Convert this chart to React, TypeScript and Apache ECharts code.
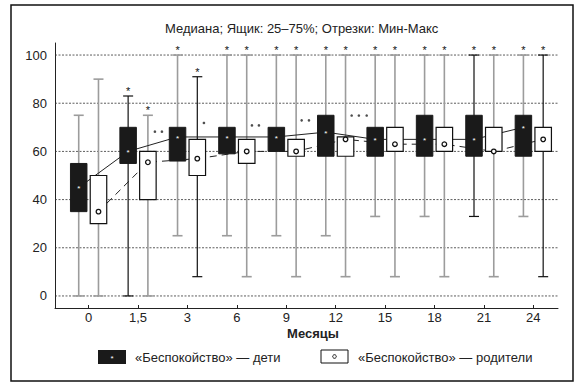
import React, { useEffect, useRef } from 'react';
import * as echarts from 'echarts';

const FONT = '"Liberation Sans", Arial, Helvetica, sans-serif';

const months = ['0', '1,5', '3', '6', '9', '12', '15', '18', '21', '24'];
const yTicks = [0, 20, 40, 60, 80, 100];

// «Беспокойство» — дети
const childMin = [0, 0, 25, 25, 25, 25, 33, 33, 33, 33];
const childQ1 = [35, 55, 56, 59, 60, 58, 58, 58, 58, 58];
const childMedian = [45, 60, 66, 66, 66, 68, 65, 65, 65, 70];
const childQ3 = [55, 70, 70, 70, 70, 75, 70, 75, 75, 75];
const childMax = [75, 83, 100, 100, 100, 100, 100, 100, 100, 100];
const childStar = [false, true, true, true, true, true, true, true, true, true];

// «Беспокойство» — родители
const parentMin = [0, 0, 8, 8, 8, 8, 8, 8, 8, 8];
const parentQ1 = [30, 40, 50, 55, 58, 58, 60, 60, 60, 60];
const parentMedian = [35, 55.5, 57, 60, 60, 65, 63, 63, 60, 65];
const parentQ3 = [50, 60, 65, 65, 65, 66, 70, 70, 70, 70];
const parentMax = [90, 75, 91, 100, 100, 100, 100, 100, 100, 100];
const parentStar = [false, true, true, true, true, true, true, true, true, true];

// significance dots between groups: [month index position, value]
const sigDots = [
  [1.342, 68.2], [1.484, 68.2],
  [2.334, 71.8],
  [3.306, 70.8], [3.447, 70.8],
  [4.312, 72.9], [4.46, 72.9],
  [5.324, 74.9], [5.47, 74.9], [5.628, 74.9],
];

// whisker styling (dark = black line, otherwise grey)
const childWhiskerDark = [false, true, false, false, false, false, false, false, true, false];
const parentWhiskerDark = [false, false, true, false, false, false, false, false, false, true];

const OFFSET = 0.2;
const BOX_W = 0.334;

function whiskerRender(offset: number, dark: boolean[]) {
  return (params: any, api: any) => {
    const i = api.value(0);
    const x = api.coord([i + offset, 0])[0];
    const yLo = api.coord([i, api.value(1)])[1];
    const yHi = api.coord([i, api.value(2)])[1];
    const isDark = dark[i];
    const stroke = isDark ? '#111' : '#9c9c9c';
    const lw = isDark ? 1.2 : 1.6;
    const st = { stroke, lineWidth: lw };
    return {
      type: 'group',
      children: [
        { type: 'line', shape: { x1: x, y1: yHi, x2: x, y2: yLo }, style: st },
        { type: 'line', shape: { x1: x - 5, y1: yLo, x2: x + 5, y2: yLo }, style: st },
        { type: 'line', shape: { x1: x - 5, y1: yHi, x2: x + 5, y2: yHi }, style: st },
      ],
    };
  };
}

function starRender(offset: number) {
  return (params: any, api: any) => {
    const i = api.value(0);
    const x = api.coord([i + offset, 0])[0];
    const yHi = api.coord([i, api.value(1)])[1];
    return {
      type: 'text',
      x,
      y: yHi - 5,
      style: { text: '*', fontSize: 11, fill: '#111', align: 'center', verticalAlign: 'middle', fontFamily: FONT },
    };
  };
}

function boxRender(offset: number, filled: boolean) {
  return (params: any, api: any) => {
    const i = api.value(0);
    const x = api.coord([i + offset, 0])[0];
    const y1 = api.coord([i, api.value(1)])[1];
    const ym = api.coord([i, api.value(2)])[1];
    const y3 = api.coord([i, api.value(3)])[1];
    const w = api.size([BOX_W, 0])[0];
    const children: any[] = [
      {
        type: 'rect',
        shape: { x: x - w / 2, y: y3, width: w, height: y1 - y3 },
        style: filled ? { fill: '#1a1a1a', stroke: '#1a1a1a', lineWidth: 1 } : { fill: '#fff', stroke: '#111', lineWidth: 1.2 },
      },
      filled
        ? { type: 'text', x, y: ym + 1.2, style: { text: '*', fontSize: 8, fill: '#fff', align: 'center', verticalAlign: 'middle', fontFamily: FONT } }
        : { type: 'circle', shape: { cx: x, cy: ym, r: 2.3 }, style: { fill: '#fff', stroke: '#111', lineWidth: 1.3 } },
    ];
    return { type: 'group', children };
  };
}

function gridRender(params: any, api: any) {
  const cs = params.coordSys;
  const y = api.coord([0, api.value(0)])[1];
  return {
    type: 'line',
    shape: { x1: cs.x, y1: y, x2: cs.x + cs.width, y2: y },
    style: { stroke: '#333', lineWidth: 0.8, lineDash: [2, 1.5] },
  };
}

export default function App() {
  const ref = useRef<HTMLDivElement>(null);
  useEffect(() => {
    const chart = echarts.init(ref.current!, null, { renderer: 'svg' });
    const idx = months.map((_, i) => i);
    const textStyle = { fontSize: 13, color: '#222', fontFamily: FONT };
    const starData = (max: number[], flags: boolean[]) =>
      max.map((v, i) => [i, v]).filter((_, i) => flags[i]);
    const option: any = {
      animation: false,
      backgroundColor: '#fff',
      title: {
        text: 'Медиана; Ящик: 25–75%; Отрезки: Мин-Макс',
        left: 165,
        top: 22,
        padding: 0,
        textStyle: { fontSize: 13, fontWeight: 'normal', color: '#222', fontFamily: FONT },
      },
      grid: { left: 55, right: 22, top: 43, bottom: 80 },
      xAxis: {
        type: 'value',
        min: -0.68,
        max: 9.5,
        axisLine: { show: true, onZero: false, lineStyle: { color: '#222', width: 1 } },
        axisTick: { show: true, inside: true, length: 3, customValues: idx, lineStyle: { color: '#222' } },
        axisLabel: { customValues: idx, formatter: (v: number) => months[Math.round(v)] ?? '', margin: 3, ...textStyle },
        splitLine: { show: false },
      },
      yAxis: {
        type: 'value',
        min: -5,
        max: 105,
        axisLine: { show: true, onZero: false, lineStyle: { color: '#222', width: 1 } },
        axisTick: { show: false },
        axisLabel: { customValues: yTicks, margin: 8, ...textStyle },
        splitLine: { show: false },
      },
      series: [
        { type: 'custom', z: 1, silent: true, renderItem: gridRender, data: yTicks.map((v) => [v]), encode: { y: 0 } },
        {
          type: 'custom', z: 2, silent: true,
          renderItem: whiskerRender(-OFFSET, childWhiskerDark),
          data: childMin.map((v, i) => [i, v, childMax[i]]),
        },
        {
          type: 'custom', z: 2, silent: true,
          renderItem: whiskerRender(OFFSET, parentWhiskerDark),
          data: parentMin.map((v, i) => [i, v, parentMax[i]]),
        },
        {
          type: 'line', z: 3, silent: true, symbol: 'none',
          lineStyle: { color: '#222', width: 1 },
          data: childMedian.map((v, i) => [i - OFFSET, v]),
        },
        {
          type: 'line', z: 3, silent: true, symbol: 'none',
          lineStyle: { color: '#222', width: 1, type: [7, 5] },
          data: parentMedian.map((v, i) => [i + OFFSET, v]),
        },
        {
          type: 'custom', z: 4, silent: true,
          renderItem: boxRender(-OFFSET, true),
          data: childQ1.map((v, i) => [i, v, childMedian[i], childQ3[i]]),
        },
        {
          type: 'custom', z: 4, silent: true,
          renderItem: boxRender(OFFSET, false),
          data: parentQ1.map((v, i) => [i, v, parentMedian[i], parentQ3[i]]),
        },
        {
          type: 'custom', z: 5, silent: true, color: '#111',
          renderItem: starRender(-OFFSET),
          data: starData(childMax, childStar),
        },
        {
          type: 'custom', z: 5, silent: true, color: '#111',
          renderItem: starRender(OFFSET),
          data: starData(parentMax, parentStar),
        },
        {
          type: 'scatter', z: 5, silent: true, symbol: 'circle', symbolSize: 2.6,
          itemStyle: { color: '#222' },
          data: sigDots,
        },
      ],
      graphic: [
        { type: 'rect', z: 0, shape: { x: 11, y: 5, width: 562, height: 376 }, style: { fill: 'none', stroke: '#111', lineWidth: 1.5 } },
        { type: 'text', x: 313, y: 333, style: { text: 'Месяцы', fontSize: 13, fontWeight: 'bold', fill: '#222', align: 'center', verticalAlign: 'middle', fontFamily: FONT } },
        { type: 'rect', shape: { x: 98, y: 350, width: 28, height: 14 }, style: { fill: '#1a1a1a' } },
        { type: 'text', x: 112, y: 358.2, style: { text: '*', fontSize: 8, fill: '#fff', align: 'center', verticalAlign: 'middle', fontFamily: FONT } },
        { type: 'text', x: 135, y: 357, style: { text: '«Беспокойство» — дети', fontSize: 13, fill: '#222', verticalAlign: 'middle', fontFamily: FONT } },
        { type: 'rect', shape: { x: 321, y: 350, width: 27, height: 13 }, style: { fill: '#fff', stroke: '#111', lineWidth: 1 } },
        { type: 'circle', shape: { cx: 334.5, cy: 356.5, r: 1.8 }, style: { fill: '#fff', stroke: '#111', lineWidth: 1 } },
        { type: 'text', x: 358, y: 357, style: { text: '«Беспокойство» — родители', fontSize: 13, fill: '#222', verticalAlign: 'middle', fontFamily: FONT } },
      ],
    };
    chart.setOption(option);
    return () => chart.dispose();
  }, []);
  return (
    <div
      ref={ref}
      style={{ position: 'fixed', left: 0, top: 0, width: 580, height: 388, background: '#fff' }}
    />
  );
}
